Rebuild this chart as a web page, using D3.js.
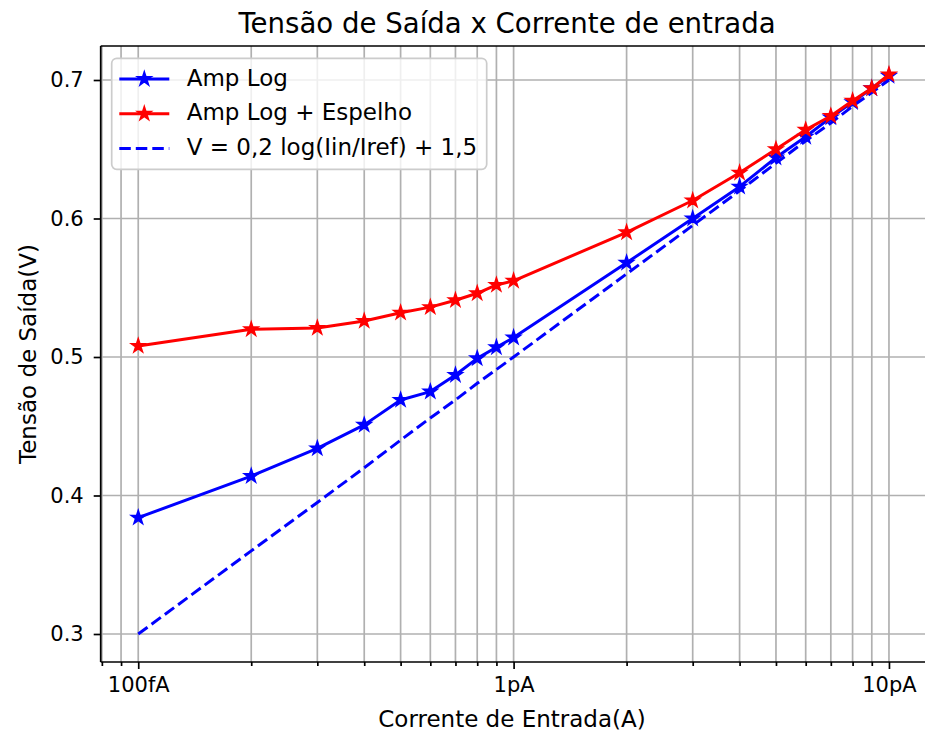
<!DOCTYPE html>
<html><head><meta charset="utf-8">
<script src="https://cdn.jsdelivr.net/npm/d3@7"></script>
<style>
body{margin:0;background:#fff}
svg{display:block}
text{font-family:"DejaVu Sans",sans-serif;fill:#000}
</style>
</head><body>
<svg id="c" width="925" height="737"></svg>
<script>
// ---- data ----
const currents = [1e-13,2e-13,3e-13,4e-13,5e-13,6e-13,7e-13,8e-13,9e-13,
                  1e-12,2e-12,3e-12,4e-12,5e-12,6e-12,7e-12,8e-12,9e-12,1e-11];
const ampLog = [0.384,0.414,0.434,0.451,0.469,0.475,0.487,0.499,0.507,
                0.514,0.568,0.600,0.623,0.644,0.659,0.673,0.684,0.694,0.703];
const ampLogEspelho = [0.508,0.520,0.521,0.526,0.532,0.536,0.541,0.546,0.552,
                       0.555,0.590,0.613,0.633,0.650,0.664,0.674,0.685,0.694,0.704];
const modelo = [0.300,0.360,0.395,0.420,0.440,0.456,0.469,0.481,0.491,
                0.500,0.560,0.595,0.620,0.640,0.656,0.669,0.681,0.691,0.700];
const seriesNames = ["Amp Log","Amp Log + Espelho","V = 0,2 log(Iin/Iref) + 1,5"];
const xTickValues = [1e-13,1e-12,1e-11];
const xTickLabels = ["100fA","1pA","10pA"];
const xMinorValues = [8e-14,9e-14,2e-13,3e-13,4e-13,5e-13,6e-13,7e-13,8e-13,9e-13,
                      2e-12,3e-12,4e-12,5e-12,6e-12,7e-12,8e-12,9e-12];
const yTickValues = [0.3,0.4,0.5,0.6,0.7];
const yTickLabels = ["0.3","0.4","0.5","0.6","0.7"];
const title = "Tensão de Saída x Corrente de entrada";
const xLabel = "Corrente de Entrada(A)";
const yLabel = "Tensão de Saída(V)";

// ---- layout ----
const L = 100.7, R = 926.5, T = 46, B = 662;
const svg = d3.select("#c");
const x = d3.scaleLog().domain([Math.pow(10,-13.1), Math.pow(10,-10.9)]).range([L, R]);
const y = d3.scaleLinear().domain([0.27978, 0.72455]).range([B, T]);

const gridColor = "#b0b0b0";
// grid
const grid = svg.append("g");
grid.selectAll("line.gx").data(xTickValues.concat(xMinorValues)).join("line")
  .attr("x1", d => x(d)).attr("x2", d => x(d)).attr("y1", T).attr("y2", B)
  .attr("stroke", gridColor).attr("stroke-width", 1.7);
grid.selectAll("line.gy").data(yTickValues).join("line")
  .attr("x1", L).attr("x2", R).attr("y1", d => y(d)).attr("y2", d => y(d))
  .attr("stroke", gridColor).attr("stroke-width", 1.7);

// axes
const xAxis = d3.axisBottom(x).tickValues(xTickValues)
  .tickFormat((d,i) => xTickLabels[i]).tickSize(7).tickPadding(8);
const xAxisMinor = d3.axisBottom(x).tickValues(xMinorValues).tickFormat("").tickSize(4);
const yAxis = d3.axisLeft(y).tickValues(yTickValues)
  .tickFormat((d,i) => yTickLabels[i]).tickSize(7).tickPadding(10);

function styleAxis(g){
  g.select(".domain").remove();
  g.selectAll(".tick line").attr("stroke","#000").attr("stroke-width",1.7);
  g.selectAll(".tick text").attr("font-family","DejaVu Sans").attr("font-size",21).attr("fill","#000");
}
svg.append("g").attr("transform",`translate(0,${B})`).call(xAxisMinor).call(styleAxis);
svg.append("g").attr("transform",`translate(0,${B})`).call(xAxis).call(styleAxis);
svg.append("g").attr("transform",`translate(${L},0)`).call(yAxis).call(styleAxis);

// spines
const sp = svg.append("g").attr("stroke","#000").attr("stroke-width",1.7).attr("fill","none");
sp.append("line").attr("x1",L).attr("x2",L).attr("y1",T).attr("y2",B);
sp.append("line").attr("x1",L).attr("x2",R).attr("y1",B).attr("y2",B);
sp.append("line").attr("x1",L).attr("x2",R).attr("y1",T).attr("y2",T);
sp.append("line").attr("x1",R).attr("x2",R).attr("y1",T).attr("y2",B);

// star marker path
function starPath(R0){
  const r0 = R0*0.381966; let p = "";
  for(let i=0;i<10;i++){
    const a = -Math.PI/2 + i*Math.PI/5, rr = i%2===0 ? R0 : r0;
    p += (i===0?"M":"L") + (rr*Math.cos(a)).toFixed(2) + "," + (rr*Math.sin(a)).toFixed(2);
  }
  return p + "Z";
}
const star = starPath(6.5);

const lineGen = (vals) => d3.line().x((d,i)=>x(currents[i])).y(d=>y(d))(vals);

// dashed model line
svg.append("path").attr("d", lineGen(modelo)).attr("fill","none")
  .attr("stroke","#0000ff").attr("stroke-width",3).attr("stroke-dasharray","11.5,5");

// series
function drawSeries(vals, color){
  svg.append("path").attr("d", lineGen(vals)).attr("fill","none")
    .attr("stroke", color).attr("stroke-width",3).attr("stroke-linejoin","round");
  svg.append("g").selectAll("path").data(vals).join("path")
    .attr("d", star).attr("transform",(d,i)=>`translate(${x(currents[i])},${y(d)})`)
    .attr("fill", color).attr("stroke", color).attr("stroke-width",2).attr("stroke-linejoin","miter");
}
drawSeries(ampLog, "#0000ff");
drawSeries(ampLogEspelho, "#ff0000");

// legend
const lg = svg.append("g");
lg.append("rect").attr("x",111.7).attr("y",58.3).attr("width",375).attr("height",111)
  .attr("rx",5).attr("fill","#fff").attr("fill-opacity",0.8)
  .attr("stroke","#cccccc").attr("stroke-width",1.7);
const legendItems = [
  {name: seriesNames[0], color:"#0000ff", marker:true, dash:null},
  {name: seriesNames[1], color:"#ff0000", marker:true, dash:null},
  {name: seriesNames[2], color:"#0000ff", marker:false, dash:"11.5,5"}
];
legendItems.forEach((it,i)=>{
  const cy = 79 + i*34.7;
  lg.append("line").attr("x1",119.3).attr("x2",169.3).attr("y1",cy).attr("y2",cy)
    .attr("stroke",it.color).attr("stroke-width",3).attr("stroke-dasharray",it.dash);
  if(it.marker) lg.append("path").attr("d",star).attr("transform",`translate(144.3,${cy})`)
    .attr("fill",it.color).attr("stroke",it.color).attr("stroke-width",2);
  lg.append("text").attr("x",186.7).attr("y",cy+6.7).attr("font-size",23).text(it.name);
});

// titles
svg.append("text").attr("x",507).attr("y",33).attr("text-anchor","middle")
  .attr("font-size",27.6).text(title);
svg.append("text").attr("x",512).attr("y",727).attr("text-anchor","middle")
  .attr("font-size",23).text(xLabel);
svg.append("text").attr("transform",`translate(36,${(T+B)/2}) rotate(-90)`)
  .attr("text-anchor","middle").attr("font-size",23).text(yLabel);
</script>
</body></html>
